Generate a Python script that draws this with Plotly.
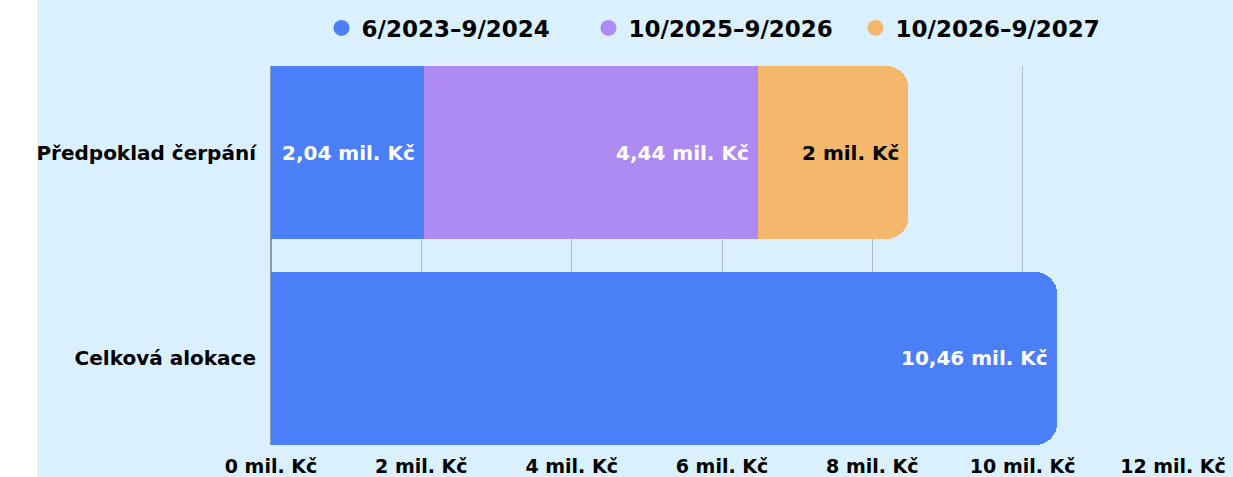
import plotly.graph_objects as go

categories = ["Celková alokace", "Předpoklad čerpání"]
series_names = ["6/2023–9/2024", "10/2025–9/2026", "10/2026–9/2027"]
s1 = [10.46, 2.04]
s2 = [None, 4.44]
s3 = [None, 2.0]
tick_vals = [0, 2, 4, 6, 8, 10, 12]
tick_text = [f"{v} mil. Kč" for v in tick_vals]
colors = ["#4a7ff7", "#ae8bf3", "#f4b86d"]
text_colors = ["white", "white", "black"]

BG = "#daf1fd"
FONT = "DejaVu Sans"


def fmt(v):
    s = f"{v:.2f}".rstrip("0").rstrip(".")
    return s.replace(".", ",") + " mil. Kč"


fig = go.Figure()
cum = [0.0] * len(categories)
annotations = []
for name, vals, col, tcol in zip(series_names, [s1, s2, s3], colors, text_colors):
    fig.add_trace(go.Bar(
        y=categories, x=vals, orientation="h", name=name,
        marker=dict(color=col, line=dict(width=0)),
        showlegend=False, hoverinfo="skip",
    ))
    fig.add_trace(go.Scatter(
        x=[None], y=[None], mode="markers", name=name,
        marker=dict(symbol="circle", size=16, color=col), showlegend=True,
    ))
    for i, v in enumerate(vals):
        if v is None:
            continue
        cum[i] += v
        annotations.append(dict(
            x=cum[i], y=categories[i], xref="x", yref="y",
            text=fmt(v), showarrow=False, xanchor="right", yanchor="middle",
            xshift=-7, font=dict(family=FONT, size=20, color=tcol, weight="bold"),
        ))

fig.update_layout(
    template="none",
    width=1233, height=477,
    barmode="stack", bargap=0.16, barcornerradius=22,
    paper_bgcolor=BG, plot_bgcolor=BG,
    margin=dict(l=271, r=60, t=66, b=32, autoexpand=False),
    font=dict(family=FONT, color="black"),
    annotations=annotations,
    legend=dict(orientation="h", x=0.5, xanchor="center",
                y=1 - 28 / 477, yanchor="middle", yref="container",
                traceorder="normal", entrywidth=222, entrywidthmode="pixels",
                font=dict(family=FONT, size=23, weight="bold"),
                itemsizing="trace", itemwidth=30, bgcolor="rgba(0,0,0,0)"),
    xaxis=dict(range=[0, 12], tickvals=tick_vals, ticktext=tick_text,
               showgrid=True, gridcolor="#b0bfcb", gridwidth=1,
               zeroline=True, zerolinecolor="#8e9ba5", zerolinewidth=2,
               showline=False, ticks="outside", ticklen=4, tickcolor="rgba(0,0,0,0)",
               automargin=False,
               tickfont=dict(family=FONT, size=19, weight="bold")),
    yaxis=dict(range=[-0.42, 1.42], showgrid=False, zeroline=False, showline=False,
               ticks="outside", ticklen=10, tickcolor="rgba(0,0,0,0)",
               automargin=False,
               tickfont=dict(family=FONT, size=20, weight="bold")),
    shapes=[dict(type="rect", xref="paper", yref="paper",
                 x0=-271 / 902, x1=(37 - 271) / 902, y0=-1, y1=2,
                 fillcolor="white", line=dict(width=0), layer="below")],
)

fig.write_html("out.html", config={"displayModeBar": False},
               post_script="document.body.style.margin='0';")
